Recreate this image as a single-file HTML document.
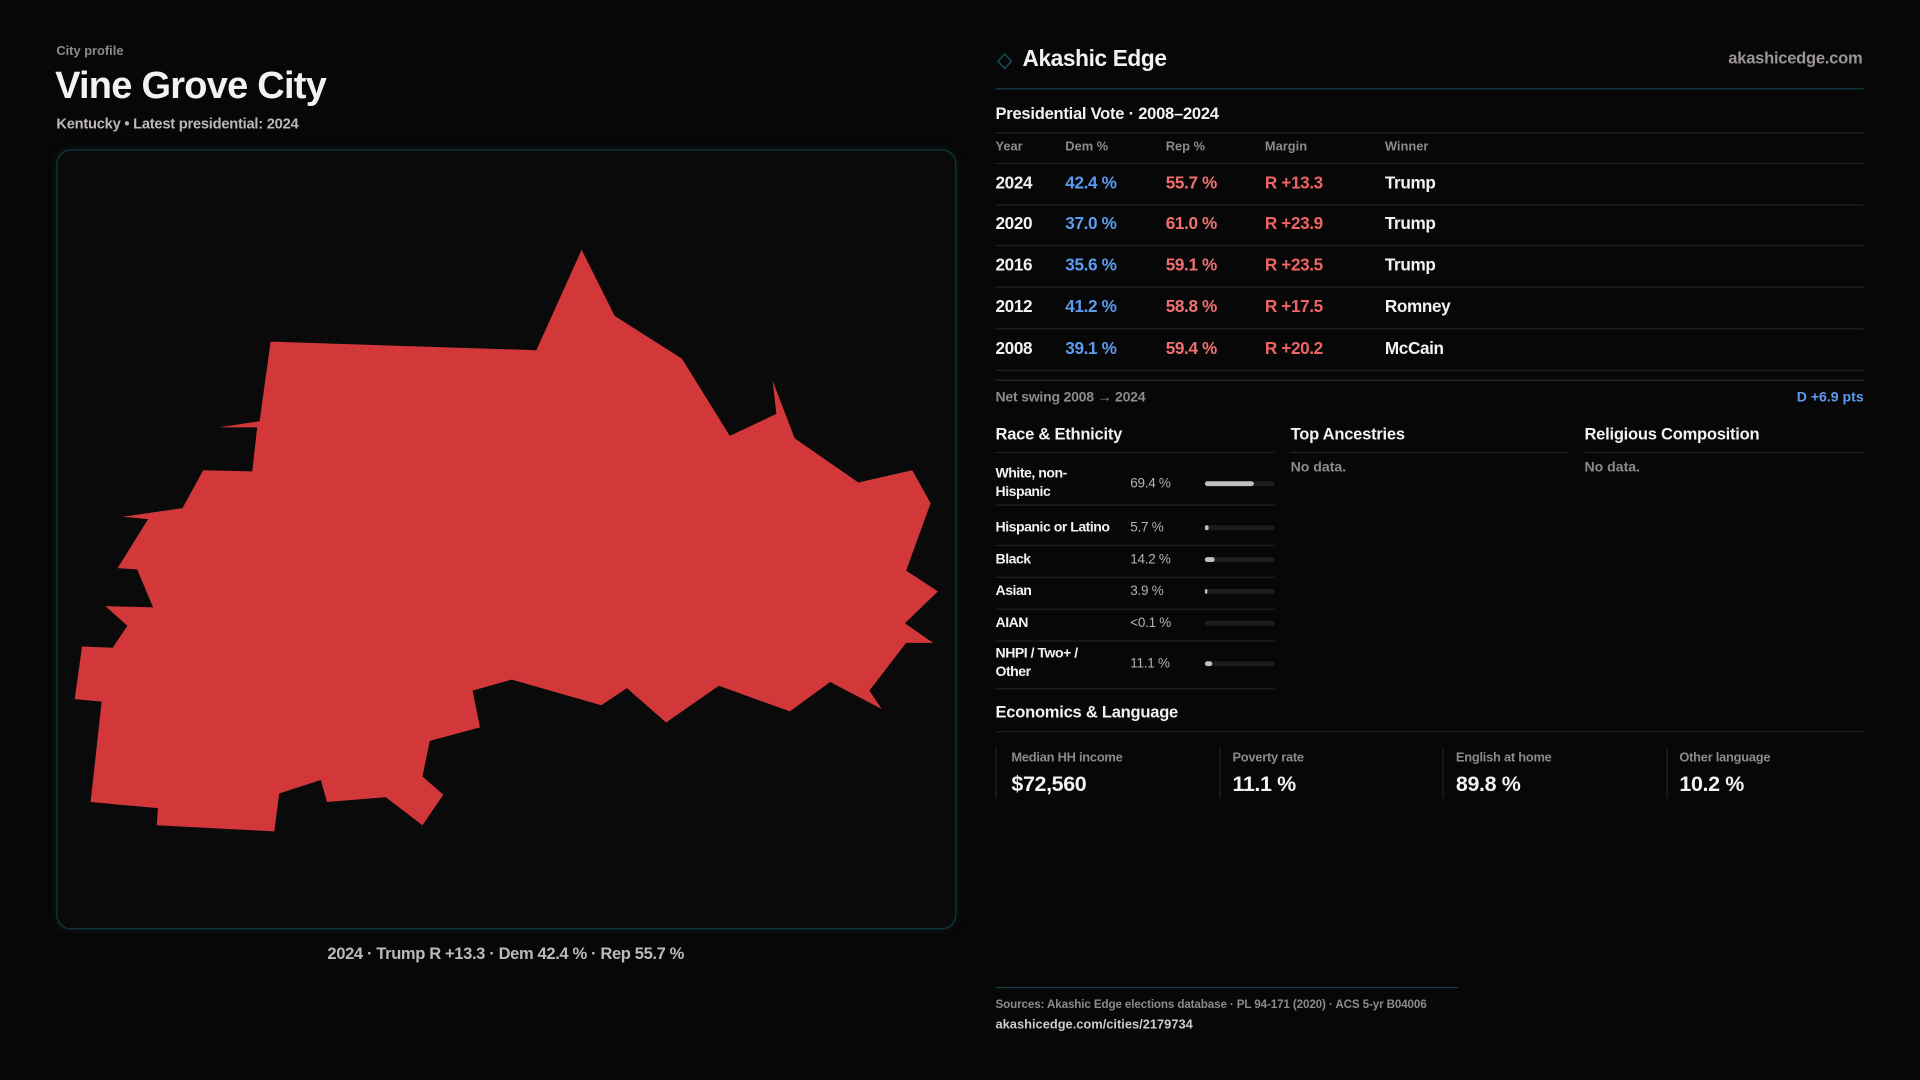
<!DOCTYPE html>
<html><head><meta charset="utf-8">
<style>
html,body{margin:0;padding:0;background:#080707;width:1920px;height:1080px;overflow:hidden}
#wrap{position:absolute;left:0;top:0;width:1568px;height:882px;transform:scale(1.22449);transform-origin:0 0;font-family:"Liberation Sans",sans-serif;color:#f2f2f2}
.a{position:absolute;white-space:nowrap}
.line{position:absolute;height:1px;background:#222}
.g{color:#8d8a88}
</style></head><body>
<div id="wrap">
<div class="a g" style="left:46px;top:36px;font-size:10.5px;font-weight:bold">City profile</div>
<div class="a" style="left:45px;top:52px;font-size:31px;font-weight:bold;letter-spacing:-0.6px">Vine Grove City</div>
<div class="a" style="left:46px;top:94px;font-size:12px;color:#bdb9b6;font-weight:bold;letter-spacing:-0.2px">Kentucky • Latest presidential: 2024</div>

<div class="a" style="left:46px;top:122px;width:733px;height:635px;border:1px solid #12383d;border-radius:12px;background:#0b0a0b;box-shadow:0 0 6px rgba(20,90,100,0.25)"></div>
<svg class="a" style="left:0;top:0" width="800" height="800">
<polygon fill="#d23739" points="475,204 502,258 557,293 596,356 634,338 631,311 649,358 701,394 745,384 760,411 740,466 766,483 739,509 762,525 740,525 710,564 720,579 678,557 645,581 587,560 544,590 512,562 491,576 418,555 386,564 392,594 351,605 345,634 362,649 345,674 315,651 267,655 262,637 228,648 224,679 128,674 129,660 74,655 83,573 61,571 67,528 92,529 104,511 86,495 125,496 112,465 96,464 121,424 100,422 149,415 166,384 206,385 210,349 179,349 212,344 221,279 438,286"/>
</svg>
<div class="a" style="left:46px;width:734px;top:771px;text-align:center;font-size:13.5px;color:#bdb9b6;font-weight:bold;letter-spacing:-0.3px">2024 · Trump R +13.3 · Dem 42.4 % · Rep 55.7 %</div>

<svg class="a" style="left:814px;top:43px" width="13" height="14"><polygon points="6.5,1 12,7 6.5,13 1,7" fill="none" stroke="#124a50" stroke-width="1.3"/></svg>
<div class="a" style="left:835px;top:37px;font-size:18.5px;font-weight:bold;letter-spacing:-0.3px">Akashic Edge</div>
<div class="a g" style="right:47px;top:40px;font-size:13.5px;font-weight:bold;color:#9a9693;letter-spacing:-0.2px">akashicedge.com</div>
<div class="line" style="left:813px;top:72px;width:709px;background:#123e46"></div>
<div class="a" style="left:813px;top:85px;font-size:13.5px;font-weight:bold;letter-spacing:-0.2px">Presidential Vote · 2008–2024</div>
<div class="line" style="left:813px;top:108px;width:709px"></div>
<div id="tbl"></div>
<div class="line" style="left:813px;top:310px;width:709px;background:#2a2a2a"></div>
<div class="a g" style="left:813px;top:319px;font-size:11.5px;font-weight:bold;letter-spacing:-0.2px">Net swing 2008 → 2024</div>
<div class="a" style="right:46px;top:319px;font-size:11.5px;font-weight:bold;color:#5b9cf0">D +6.9 pts</div>

<div class="a" style="left:813px;top:347px;font-size:13.5px;font-weight:bold;letter-spacing:-0.2px">Race &amp; Ethnicity</div>
<div class="line" style="left:813px;top:369px;width:228px"></div>
<div class="a" style="left:1054px;top:347px;font-size:13.5px;font-weight:bold;letter-spacing:-0.2px">Top Ancestries</div>
<div class="line" style="left:1054px;top:369px;width:227px"></div>
<div class="a g" style="left:1054px;top:376px;font-size:11.5px;font-weight:bold">No data.</div>
<div class="a" style="left:1294px;top:347px;font-size:13.5px;font-weight:bold;letter-spacing:-0.2px">Religious Composition</div>
<div class="line" style="left:1294px;top:369px;width:228px"></div>
<div class="a g" style="left:1294px;top:376px;font-size:11.5px;font-weight:bold">No data.</div>
<div id="race"></div>

<div class="a" style="left:813px;top:574px;font-size:13.5px;font-weight:bold;letter-spacing:-0.2px">Economics &amp; Language</div>
<div class="line" style="left:813px;top:597px;width:709px"></div>
<div id="stats"></div>

<div class="line" style="left:813px;top:806px;width:378px;background:#123e46"></div>
<div class="a g" style="left:813px;top:815px;font-size:9.5px;font-weight:bold;letter-spacing:-0.1px">Sources: Akashic Edge elections database · PL 94-171 (2020) · ACS 5-yr B04006</div>
<div class="a" style="left:813px;top:831px;font-size:10.5px;font-weight:bold;color:#cfcbc8">akashicedge.com/cities/2179734</div>
</div>
<script>
const years=["2024","2020","2016","2012","2008"];
const demPct=[42.4,37.0,35.6,41.2,39.1];
const repPct=[55.7,61.0,59.1,58.8,59.4];
const margins=["R +13.3","R +23.9","R +23.5","R +17.5","R +20.2"];
const winners=["Trump","Trump","Trump","Romney","McCain"];
const raceLabels=["White, non-\nHispanic","Hispanic or Latino","Black","Asian","AIAN","NHPI / Two+ /\nOther"];
const raceDisplay=["69.4 %","5.7 %","14.2 %","3.9 %","<0.1 %","11.1 %"];
const raceValues=[69.4,5.7,14.2,3.9,0.05,11.1];
const statLabels=["Median HH income","Poverty rate","English at home","Other language"];
const statValues=["$72,560","11.1 %","89.8 %","10.2 %"];

const W=document.getElementById('wrap');
function mk(html,style,cls){const d=document.createElement('div');d.className='a '+(cls||'');d.style.cssText=style;d.textContent=html;W.appendChild(d);return d;}
const cols=[813,870,952,1033,1131];
const heads=["Year","Dem %","Rep %","Margin","Winner"];
heads.forEach((h,i)=>{const d=mk(h,`left:${cols[i]}px;top:114px;font-size:10.5px;font-weight:bold`,'g');

});
const ln=document.createElement('div');ln.className='line';ln.style.cssText='left:813px;top:133px;width:709px';W.appendChild(ln);
const rowTop=[134,167,201,235,269];
years.forEach((y,i)=>{
 const t=rowTop[i], ty=t+7;
 const vals=[y,demPct[i].toFixed(1)+" %",repPct[i].toFixed(1)+" %",margins[i],winners[i]];
 const colr=["#f2f2f2","#5b9cf0","#f07070","#ee6464","#f2f2f2"];
 vals.forEach((v,j)=>{const d=mk(v,`left:${cols[j]}px;top:${ty}px;font-size:14px;font-weight:bold;letter-spacing:-0.3px;color:${colr[j]}`);
 
 });
 const l=document.createElement('div');l.className='line';l.style.cssText=`left:813px;top:${t+33}px;width:709px`;W.appendChild(l);
});
const raceTop=[378,418,444,470,496,522];
const raceH=[33,26,26,26,26,39];
raceLabels.forEach((r,i)=>{
 const t=raceTop[i],h=raceH[i],c=t+h/2;
 const d=mk(r,`left:813px;top:${t}px;width:108px;height:${h}px;display:flex;align-items:center;white-space:pre-line;font-size:11.5px;font-weight:bold;line-height:15px;letter-spacing:-0.4px`);
 
 
 const p=mk(raceDisplay[i],`left:923px;top:${c-6}px;font-size:11px;color:#b5b1ae;letter-spacing:-0.2px`);
 
 
 const tr=mk('',`left:984px;top:${c-2}px;width:57px;height:4px;border-radius:2px;background:#1c1c1c`);
 
 
 const bw=Math.max(raceValues[i]/100*57, raceValues[i]>1?2:0);
 const b=mk('',`left:984px;top:${c-2}px;width:${bw}px;height:4px;border-radius:2px;background:#c0bfbe`);
 
 
 const l=document.createElement('div');l.className='line';l.style.cssText=`left:813px;top:${t+h+1}px;width:228px`;W.appendChild(l);
});
statLabels.forEach((s,i)=>{
 const x=813+i*182.5;
 const bd=mk('',`left:${x}px;top:611px;width:1px;height:41px;background:#222`);
 
 
 const l=mk(s,`left:${x+(i?11:13)}px;top:613px;font-size:10.5px;font-weight:bold;letter-spacing:-0.2px`,'g');
 
 
 const v=mk(statValues[i],`left:${x+(i?11:13)}px;top:630px;font-size:17.5px;font-weight:bold;letter-spacing:-0.3px`);
 
 
});
</script>
</body></html>
